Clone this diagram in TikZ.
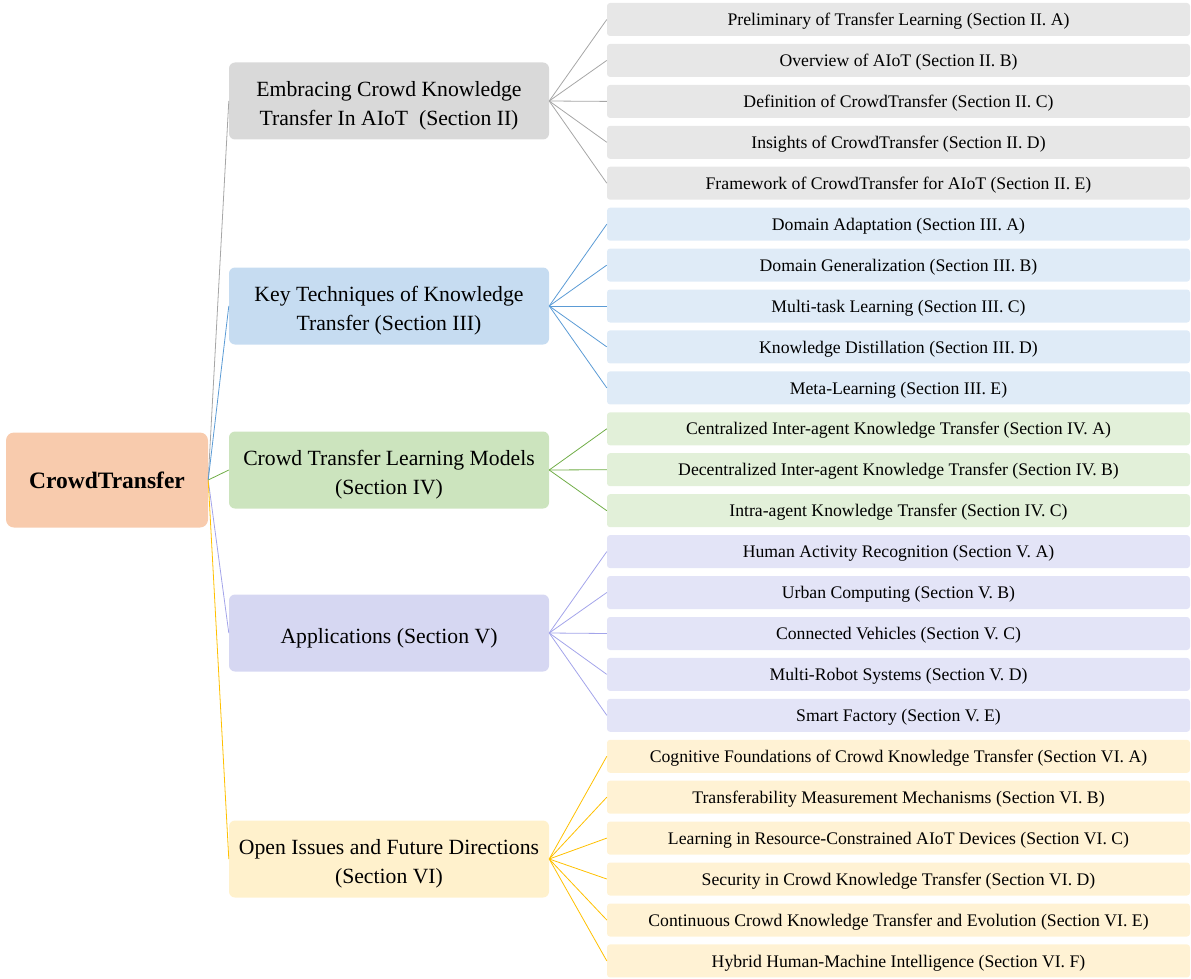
\documentclass[tikz,border=0pt]{standalone}
\usepackage{fontspec}
\setmainfont{Liberation Serif}
\usepackage{xcolor}
\usepackage{tikz}
\usetikzlibrary{positioning,calc}
\definecolor{rootorange}{HTML}{F8CBAD}
\definecolor{secgray}{HTML}{D9D9D9}
\definecolor{leafgray}{HTML}{E7E7E7}
\definecolor{linegray}{HTML}{A6A6A6}
\definecolor{secblue}{HTML}{C6DCF1}
\definecolor{leafblue}{HTML}{DFEBF7}
\definecolor{lineblue}{HTML}{5B9BD5}
\definecolor{secgreen}{HTML}{CCE4BE}
\definecolor{leafgreen}{HTML}{E2F0D9}
\definecolor{linegreen}{HTML}{70AD47}
\definecolor{secpurple}{HTML}{D6D7F2}
\definecolor{leafpurple}{HTML}{E3E4F7}
\definecolor{linepurple}{HTML}{A3A4EA}
\definecolor{secyellow}{HTML}{FFF1CC}
\definecolor{leafyellow}{HTML}{FFF2D4}
\definecolor{lineyellow}{HTML}{FFC000}

\begin{document}
\begin{tikzpicture}[x=1pt,y=-1pt,
					rootbox/.style={
						fill=rootorange, text=black,
						minimum width=202pt, minimum height=95pt,
						rounded corners=8pt, font=\fontsize{23.5}{27}\selectfont\bfseries,
						anchor=center
					},
					secbox/.style={
						fill=#1, text=black, align=center,
						minimum width=320pt, minimum height=77pt,
						rounded corners=6pt, font=\fontsize{21.7}{29}\selectfont,
						text height=25pt, anchor=center
					},
					twolines/.style={text height=54pt},
					leafbox/.style={
						fill=#1, text=black,
						minimum width=583pt, minimum height=33pt,
						rounded corners=3pt, font=\fontsize{17.7}{20}\selectfont,
						text height=16pt, text depth=3.8pt, anchor=center
					},
					link/.style={draw=#1, line width=0.8pt}
					]
					\useasboundingbox (0,0) rectangle (1191,979);
					
					% root
					\node[rootbox] (root) at (107,480) {CrowdTransfer};
					
					% sections
					\node[secbox=secgray, twolines]   (sec2) at (389,101) {Embracing Crowd Knowledge\\Transfer In AIoT~~(Section II)};
					\node[secbox=secblue, twolines]   (sec3) at (389,306) {Key Techniques of Knowledge\\Transfer (Section III)};
					\node[secbox=secgreen, twolines]  (sec4) at (389,470) {Crowd Transfer Learning Models\\(Section IV)};
					\node[secbox=secpurple]           (sec5) at (389,633) {Applications (Section V)};
					\node[secbox=secyellow, twolines] (sec6) at (389,859) {Open Issues and Future Directions\\(Section VI)};
					
					% Section II
					\node[leafbox=leafgray] (l2a) at (898.5,19.5)  {Preliminary of Transfer Learning (Section II. A)};
					\node[leafbox=leafgray] (l2b) at (898.5,60.4)  {Overview of AIoT (Section II. B)};
					\node[leafbox=leafgray] (l2c) at (898.5,101.4) {Definition of CrowdTransfer (Section II. C)};
					\node[leafbox=leafgray] (l2d) at (898.5,142.3) {Insights of CrowdTransfer (Section II. D)};
					\node[leafbox=leafgray] (l2e) at (898.5,183.2) {Framework of CrowdTransfer for AIoT (Section II. E)};
					
					% Section III
					\node[leafbox=leafblue] (l3a) at (898.5,224.2) {Domain Adaptation (Section III. A)};
					\node[leafbox=leafblue] (l3b) at (898.5,265.1) {Domain Generalization (Section III. B)};
					\node[leafbox=leafblue] (l3c) at (898.5,306.0) {Multi-task Learning (Section III. C)};
					\node[leafbox=leafblue] (l3d) at (898.5,346.9) {Knowledge Distillation (Section III. D)};
					\node[leafbox=leafblue] (l3e) at (898.5,387.9) {Meta-Learning (Section III. E)};
					
					% Section IV
					\node[leafbox=leafgreen] (l4a) at (898.5,428.8) {Centralized Inter-agent Knowledge Transfer (Section IV. A)};
					\node[leafbox=leafgreen] (l4b) at (898.5,469.7) {Decentralized Inter-agent Knowledge Transfer (Section IV. B)};
					\node[leafbox=leafgreen] (l4c) at (898.5,510.7) {Intra-agent Knowledge Transfer (Section IV. C)};
					
					% Section V
					\node[leafbox=leafpurple] (l5a) at (898.5,551.6) {Human Activity Recognition (Section V. A)};
					\node[leafbox=leafpurple] (l5b) at (898.5,592.5) {Urban Computing (Section V. B)};
					\node[leafbox=leafpurple] (l5c) at (898.5,633.5) {Connected Vehicles (Section V. C)};
					\node[leafbox=leafpurple] (l5d) at (898.5,674.4) {Multi-Robot Systems (Section V. D)};
					\node[leafbox=leafpurple] (l5e) at (898.5,715.3) {Smart Factory (Section V. E)};
					
					% Section VI
					\node[leafbox=leafyellow] (l6a) at (898.5,756.3) {Cognitive Foundations of Crowd Knowledge Transfer (Section VI. A)};
					\node[leafbox=leafyellow] (l6b) at (898.5,797.2) {Transferability Measurement Mechanisms (Section VI. B)};
					\node[leafbox=leafyellow] (l6c) at (898.5,838.1) {Learning in Resource-Constrained AIoT Devices (Section VI. C)};
					\node[leafbox=leafyellow] (l6d) at (898.5,879.0) {Security in Crowd Knowledge Transfer (Section VI. D)};
					\node[leafbox=leafyellow] (l6e) at (898.5,920.0) {Continuous Crowd Knowledge Transfer and Evolution (Section VI. E)};
					\node[leafbox=leafyellow] (l6f) at (898.5,960.9) {Hybrid Human-Machine Intelligence (Section VI. F)};
					
					% root to sections
					\draw[link=linegray]   (root.east) -- (sec2.west);
					\draw[link=lineblue]   (root.east) -- (sec3.west);
					\draw[link=linegreen]  (root.east) -- (sec4.west);
					\draw[link=linepurple] (root.east) -- (sec5.west);
					\draw[link=lineyellow] (root.east) -- (sec6.west);
					
					% sections to leaves
					\draw[link=linegray] (sec2.east) -- (l2a.west);
					\draw[link=linegray] (sec2.east) -- (l2b.west);
					\draw[link=linegray] (sec2.east) -- (l2c.west);
					\draw[link=linegray] (sec2.east) -- (l2d.west);
					\draw[link=linegray] (sec2.east) -- (l2e.west);
					
					\draw[link=lineblue] (sec3.east) -- (l3a.west);
					\draw[link=lineblue] (sec3.east) -- (l3b.west);
					\draw[link=lineblue] (sec3.east) -- (l3c.west);
					\draw[link=lineblue] (sec3.east) -- (l3d.west);
					\draw[link=lineblue] (sec3.east) -- (l3e.west);
					
					\draw[link=linegreen] (sec4.east) -- (l4a.west);
					\draw[link=linegreen] (sec4.east) -- (l4b.west);
					\draw[link=linegreen] (sec4.east) -- (l4c.west);
					
					\draw[link=linepurple] (sec5.east) -- (l5a.west);
					\draw[link=linepurple] (sec5.east) -- (l5b.west);
					\draw[link=linepurple] (sec5.east) -- (l5c.west);
					\draw[link=linepurple] (sec5.east) -- (l5d.west);
					\draw[link=linepurple] (sec5.east) -- (l5e.west);
					
					\draw[link=lineyellow] (sec6.east) -- (l6a.west);
					\draw[link=lineyellow] (sec6.east) -- (l6b.west);
					\draw[link=lineyellow] (sec6.east) -- (l6c.west);
					\draw[link=lineyellow] (sec6.east) -- (l6d.west);
					\draw[link=lineyellow] (sec6.east) -- (l6e.west);
					\draw[link=lineyellow] (sec6.east) -- (l6f.west);
				\end{tikzpicture}
\end{document}
